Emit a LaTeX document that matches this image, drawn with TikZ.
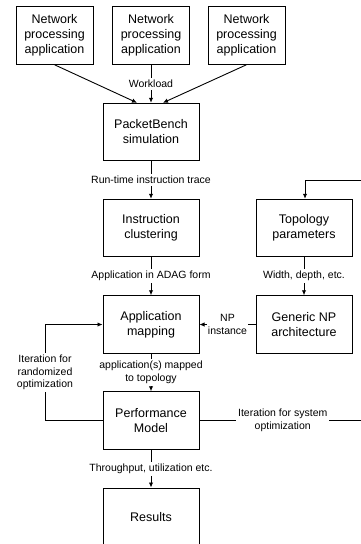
\documentclass[tikz,border=0pt]{standalone}
\usepackage{fontspec}
\setmainfont{Liberation Sans}
\usetikzlibrary{arrows.meta,backgrounds}
\pgfdeclarelayer{edgelayer}
\pgfdeclarelayer{nodelayer}
\pgfsetlayers{edgelayer,nodelayer,main}
\tikzset{font=\fontsize{12.5}{15}\selectfont}
\tikzstyle{none}=[inner sep=0pt]
\tikzstyle{box}=[draw,line width=1pt,fill=white,align=center,inner sep=0pt,minimum width=96pt,minimum height=57.5pt]
\tikzstyle{appbox}=[box,minimum width=77pt]
\tikzstyle{lbl}=[fill=white,align=center,inner sep=2pt,font=\fontsize{10.5}{12.5}\selectfont]
\tikzstyle{arr}=[line width=0.9pt,-{Latex[length=5pt,width=4.5pt]}]
\tikzstyle{ln}=[line width=0.9pt]

\begin{document}
\begin{tikzpicture}[x=1pt,y=1pt]
	\useasboundingbox (0,0) rectangle (361,-544);
	\begin{pgfonlayer}{nodelayer}
		\node [style=appbox] (app1) at (54.5, -35.5) {Network\\processing\\application};
		\node [style=appbox] (app2) at (151, -35.5) {Network\\processing\\application};
		\node [style=appbox] (app3) at (246.5, -35.5) {Network\\processing\\application};
		\node [style=box] (sim) at (151, -132) {PacketBench\\simulation};
		\node [style=box] (clus) at (151, -228) {Instruction\\clustering};
		\node [style=box] (topo) at (304, -228) {Topology\\parameters};
		\node [style=box] (map) at (151, -324.5) {Application\\mapping};
		\node [style=box] (gnp) at (304, -324.5) {Generic NP\\architecture};
		\node [style=box] (perf) at (151, -420.5) {Performance\\Model};
		\node [style=box,minimum height=58pt] (res) at (151, -517) {Results};
		\coordinate (randb) at (45, -420.5);
		\coordinate (randt) at (45, -324.5);
		\coordinate (sysb) at (366, -420.5);
		\coordinate (syst) at (366, -180);
	\end{pgfonlayer}
	\begin{pgfonlayer}{edgelayer}
		\draw [style=arr] (app1.south) to ([xshift=-14pt]sim.north);
		\draw [style=arr] (app2.south) to node [style=lbl] {Workload} (sim.north);
		\draw [style=arr] (app3.south) to ([xshift=12pt]sim.north);
		\draw [style=arr] (sim.south) to node [style=lbl] {Run-time instruction trace} (clus.north);
		\draw [style=arr] (clus.south) to node [style=lbl] {Application in ADAG form} (map.north);
		\draw [style=arr] (topo.south) to node [style=lbl] {Width, depth, etc.} (gnp.north);
		\draw [style=arr] (gnp.west) to node [style=lbl,inner sep=1pt] {NP\\instance} (map.east);
		\draw [style=arr] (map.south) to node [style=lbl] {application(s) mapped\\to topology} (perf.north);
		\draw [style=arr] (perf.south) to node [style=lbl] {Throughput, utilization etc.} (res.north);
		% feedback loops
		\draw [style=arr] (perf.west) -- (randb) -- node [style=lbl] {Iteration for\\randomized\\optimization} (randt) -- (map.west);
		\draw [style=arr] (perf.east) -- node [style=lbl] {Iteration for system\\optimization} (sysb) -- (syst) -| ([xshift=1pt]topo.north);
	\end{pgfonlayer}
\end{tikzpicture}
\end{document}
